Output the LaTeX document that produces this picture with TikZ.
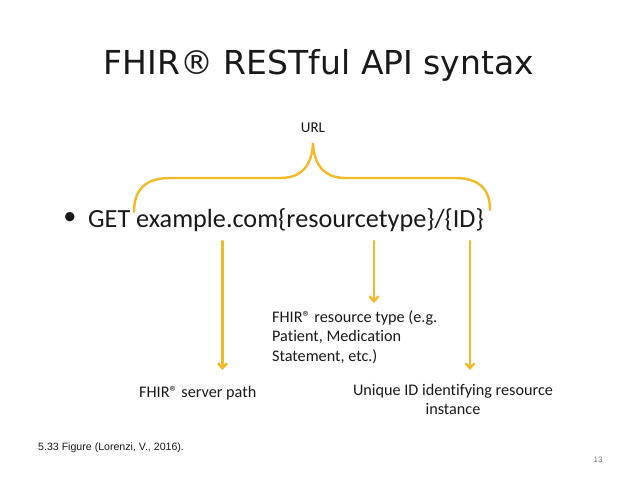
\documentclass[tikz,border=0pt]{standalone}
\usepackage{fontspec}
\setmainfont[Ligatures=NoCommon]{Carlito}
\newfontfamily\arialfont{Liberation Sans}
\newfontfamily\titlefont{DejaVu Sans}
\usetikzlibrary{arrows.meta}
\definecolor{gold}{RGB}{240,186,40}
\definecolor{txt}{RGB}{25,25,25}
\begin{document}
\begin{tikzpicture}[x=1pt,y=-1pt,
  goldline/.style={draw=gold,line width=2.4pt,line cap=round},
  goldarrow/.style={goldline,-{Straight Barb[length=5pt,width=9pt,line width=2.4pt]}},
  lbl/.style={font=\fontsize{16.2}{19.5}\selectfont,text=txt,inner sep=0pt}]
\useasboundingbox[fill=white] (0,0) rectangle (640,480);
\node[text=txt,inner sep=0pt,anchor=base,font=\titlefont\fontsize{33}{40}\selectfont] (title) at (319,74) {FHIR® RESTful API syntax};
\node[lbl,font=\fontsize{15}{18}\selectfont] (url) at (313,128) {URL};
\node[text=txt,inner sep=0pt,anchor=base west,font=\fontsize{26.2}{30}\selectfont] (get) at (88,227) {GET example.com\{resourcetype\}/\{ID\}};
\node[text=txt,inner sep=0pt,font=\fontsize{26.2}{30}\selectfont] (bullet) at (70,219) {•};
\draw[goldline] (134,212) .. controls (134,190) and (145,178) .. (170,178) -- (280,178)
  .. controls (302,178) and (312,165) .. (313,143)
  .. controls (314,165) and (324,178) .. (346,178) -- (455,178)
  .. controls (480,178) and (490,190) .. (490,210);
\coordinate (s1) at (222.5,241); \coordinate (e1) at (222.5,370);
\coordinate (s2) at (374,241); \coordinate (e2) at (374,303);
\coordinate (s3) at (470,241); \coordinate (e3) at (470,370);
\draw[goldarrow] (s1) -- (e1);
\draw[goldarrow] (s2) -- (e2);
\draw[goldarrow] (s3) -- (e3);
\node[lbl,anchor=west] (server) at (139,393) {FHIR® server path};
\node[lbl,anchor=north west,align=left] (rtype) at (272,310) {FHIR® resource type (e.g.\\Patient, Medication\\Statement, etc.)};
\node[lbl,anchor=north,align=center] (uid) at (453,384) {Unique ID identifying resource\\instance};
\node[anchor=west,inner sep=0pt,text=txt,font=\arialfont\fontsize{10.6}{12}\selectfont] (cite) at (38,448) {5.33 Figure (Lorenzi, V., 2016).};
\node[inner sep=0pt,text=gray,font=\arialfont\fontsize{8}{10}\selectfont] (page) at (598,460) {13};
\end{tikzpicture}
\end{document}
